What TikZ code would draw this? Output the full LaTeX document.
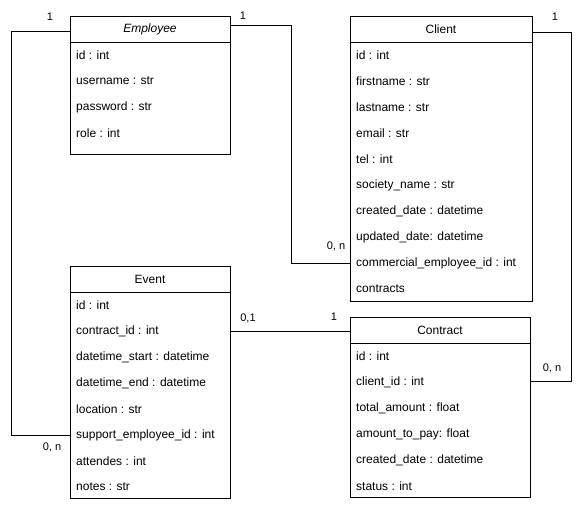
\documentclass[tikz,border=0pt]{standalone}
\usepackage{fontspec}
\setmainfont{Liberation Sans}
\begin{document}
\begin{tikzpicture}[x=1pt,y=-1pt,
  box/.style={draw,line width=1pt,rectangle,anchor=north west,inner sep=0pt},
  attr/.style={anchor=west,inner sep=0pt,font=\fontsize{12}{14}\selectfont},
  ttl/.style={anchor=center,inner sep=0pt,font=\fontsize{12}{14}\selectfont},
  mult/.style={anchor=center,inner sep=0pt,font=\fontsize{11}{13}\selectfont},
  conn/.style={draw,line width=1pt}]
\useasboundingbox[fill=white] (0,0) rectangle (582,514);
% Employee
\node[box,minimum width=160pt,minimum height=138pt] (emp) at (70,16) {};
\draw[line width=1pt] (70,42) -- (230,42);
\node[ttl,font=\fontsize{12}{14}\selectfont\itshape] (empt) at (150,29) {Employee};
\foreach \t [count=\i] in {id : int,username : str,password : str,role : int}
  \node[attr] (emp\i) at (76,{29+26*\i}) {\t};
% Client
\node[box,minimum width=182pt,minimum height=285pt] (cli) at (350,16) {};
\draw[line width=1pt] (350,42) -- (532,42);
\node[ttl] (clit) at (441,29) {Client};
\foreach \t [count=\i] in {id : int,firstname : str,lastname : str,email : str,tel : int,society\_name : str,created\_date : datetime,updated\_date: datetime,commercial\_employee\_id : int,contracts}
  \node[attr] (cli\i) at (356,{29+26*\i}) {\t};
% Event
\node[box,minimum width=160pt,minimum height=232pt] (evt) at (70,266) {};
\draw[line width=1pt] (70,292) -- (230,292);
\node[ttl] (evtt) at (150,279) {Event};
\foreach \t [count=\i] in {id : int,contract\_id : int,datetime\_start : datetime,datetime\_end : datetime,location : str,support\_employee\_id : int,attendes : int,notes : str}
  \node[attr] (evt\i) at (76,{279+26*\i}) {\t};
% Contract
\node[box,minimum width=180pt,minimum height=180pt] (con) at (350,317) {};
\draw[line width=1pt] (350,343) -- (530,343);
\node[ttl] (cont) at (440,330) {Contract};
\foreach \t [count=\i] in {id : int,client\_id : int,total\_amount : float,amount\_to\_pay: float,created\_date : datetime,status : int}
  \node[attr] (con\i) at (356,{330+26*\i}) {\t};
% connector end points on the boxes
\coordinate (a1) at (70,31);
\coordinate (a2) at (70,435);
\coordinate (b1) at (230,25);
\coordinate (b2) at (350,263);
\coordinate (c1) at (532,32);
\coordinate (c2) at (530,381);
\coordinate (d1) at (230,331);
\coordinate (d2) at (350,331);
\draw[conn] (a1) -- (11,31) -- (11,435) -- (a2);
\draw[conn] (b1) -- (291,25) -- (291,263) -- (b2);
\draw[conn] (c1) -- (571,32) -- (571,381) -- (c2);
\draw[conn] (d1) -- (d2);
% multiplicities
\node[mult] (m1) at (50,17) {1};
\node[mult] (m2) at (52,447) {0, n};
\node[mult] (m3) at (243,16) {1};
\node[mult] (m4) at (336,246) {0, n};
\node[mult] (m5) at (555,17) {1};
\node[mult] (m6) at (552,368) {0, n};
\node[mult] (m7) at (248,318) {0,1};
\node[mult] (m8) at (334,317) {1};
\end{tikzpicture}
\end{document}
